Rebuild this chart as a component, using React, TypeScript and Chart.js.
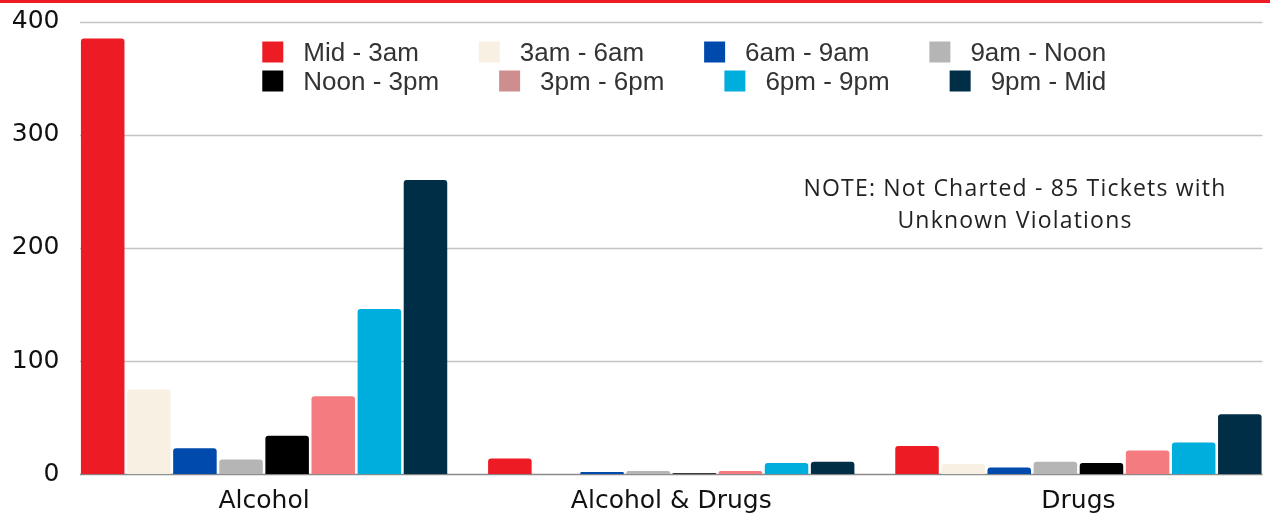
import { useEffect, useRef } from 'react';
import { Chart, registerables } from 'chart.js';

Chart.register(...registerables);

const categories = ['Alcohol', 'Alcohol & Drugs', 'Drugs'];
const seriesLabels = ['Mid - 3am', '3am - 6am', '6am - 9am', '9am - Noon', 'Noon - 3pm', '3pm - 6pm', '6pm - 9pm', '9pm - Mid'];
const midTo3am = [385, 14, 25];
const am3To6am = [75, 0, 9];
const am6To9am = [23, 2, 6];
const am9ToNoon = [13, 3, 11];
const noonTo3pm = [34, 1, 10];
const pm3To6pm = [69, 3, 21];
const pm6To9pm = [146, 10, 28];
const pm9ToMid = [260, 11, 53];
const seriesValues = [midTo3am, am3To6am, am6To9am, am9ToNoon, noonTo3pm, pm3To6pm, pm6To9pm, pm9ToMid];
const barColors = ['#ED1C24', '#F8F1E3', '#004AAD', '#B5B5B5', '#000000', '#F47C80', '#00AEDE', '#012E47'];
const legendColors = ['#ED1C24', '#F8F1E3', '#004AAD', '#B5B5B5', '#000000', '#CF8E8E', '#00AEDE', '#012E47'];
const yTicks = [0, 100, 200, 300, 400];
const noteLines = ['NOTE: Not Charted - 85 Tickets with', 'Unknown Violations'];

const decorPlugin = {
  id: 'decor',
  beforeDatasetsDraw(chart: any) {
    const { ctx, chartArea, scales } = chart;
    const y = scales.y;
    const x0 = chartArea.left + 19.5;
    const x1 = chartArea.right - 19.5;
    ctx.save();
    yTicks.forEach((v) => {
      const py = Math.round(y.getPixelForValue(v)) + 0.5;
      ctx.beginPath();
      ctx.strokeStyle = v === 0 ? '#8a8a8a' : '#c4c4c4';
      ctx.lineWidth = 1.5;
      ctx.moveTo(x0, py);
      ctx.lineTo(x1, py);
      ctx.stroke();
    });
    ctx.restore();
  },
  afterDraw(chart: any) {
    const { ctx, chartArea } = chart;
    ctx.save();
    ctx.fillStyle = '#ED1C24';
    ctx.fillRect(0, 0, chart.width, 3);

    ctx.font = '26px "Liberation Sans", Arial, sans-serif';
    ctx.textBaseline = 'middle';
    const box = 21;
    const gap = 20;
    const trail = 60;
    const centerX = (chartArea.left + chartArea.right) / 2 + 13;
    const rows = [[0, 1, 2, 3], [4, 5, 6, 7]];
    const rowY = [52, 81];
    rows.forEach((row, ri) => {
      const widths = row.map((i) => box + gap + ctx.measureText(seriesLabels[i]).width);
      const total = widths.reduce((a, b) => a + b, 0) + trail * (row.length - 1);
      let x = centerX - total / 2;
      row.forEach((i, k) => {
        ctx.fillStyle = legendColors[i];
        ctx.fillRect(x, rowY[ri] - box / 2, box, box);
        ctx.fillStyle = '#333333';
        ctx.textAlign = 'left';
        ctx.fillText(seriesLabels[i], x + box + gap, rowY[ri] + 2);
        x += widths[k] + trail;
      });
    });

    ctx.font = '23px "Open Sans", sans-serif';
    (ctx as any).letterSpacing = '1.2px';
    ctx.fillStyle = '#222222';
    ctx.textAlign = 'center';
    ctx.fillText(noteLines[0], 1015, 189);
    ctx.fillText(noteLines[1], 1015, 221);
    ctx.restore();
  },
};

export default function App() {
  const ref = useRef<HTMLCanvasElement | null>(null);
  useEffect(() => {
    if (!ref.current) return;
    const chart = new Chart(ref.current, {
      type: 'bar',
      data: {
        labels: categories,
        datasets: seriesLabels.map((label, i) => ({
          label,
          data: seriesValues[i],
          backgroundColor: barColors[i],
          borderWidth: 0,
          borderRadius: 3,
          borderSkipped: 'bottom',
          categoryPercentage: 0.906,
          barPercentage: 0.944,
        })),
      },
      plugins: [decorPlugin],
      options: {
        responsive: false,
        animation: false,
        devicePixelRatio: 1,
        layout: { padding: { top: 21.5, right: 0, bottom: 0, left: 0 } },
        plugins: {
          legend: { display: false },
          tooltip: { enabled: false },
        },
        scales: {
          x: {
            grid: { display: false, drawTicks: false },
            border: { display: false },
            ticks: {
              padding: 12,
              color: '#111111',
              font: { family: '"DejaVu Sans", sans-serif', size: 25 },
            },
            afterFit: (s: any) => { s.height = 514 - 474.3; },
          },
          y: {
            min: 0,
            max: 400,
            grid: { display: false, drawTicks: false },
            border: { display: false },
            ticks: {
              stepSize: 100,
              padding: 1,
              color: '#111111',
              font: { family: '"DejaVu Sans", sans-serif', size: 25 },
            },
            afterFit: (s: any) => { s.width = 60.5; },
          },
        },
      },
    });
    return () => chart.destroy();
  }, []);
  return (
    <div style={{ position: 'fixed', left: 0, top: 0, width: 1270, height: 514, overflow: 'hidden', background: '#fff' }}>
      <canvas ref={ref} width={1282} height={514} style={{ display: 'block' }} />
    </div>
  );
}
